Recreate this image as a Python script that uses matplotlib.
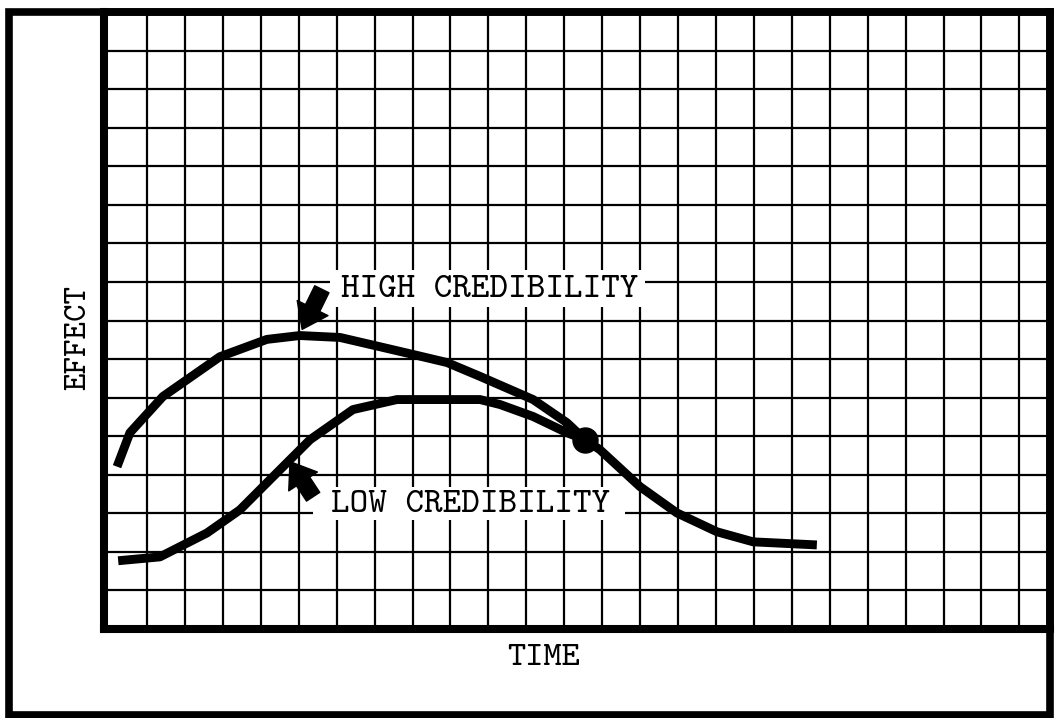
import matplotlib
matplotlib.use("Agg")
import matplotlib.pyplot as plt
from matplotlib.patches import Rectangle

# ---- data (grid units: one grid cell = 1) ----
high_x = [0.21, 0.55, 1.42, 2.92, 4.16, 5.03, 6.09, 7.14, 8.01, 8.91, 9.78, 11.18, 12.07, 12.55,
          12.94, 14.00, 14.97, 16.03, 16.98, 18.66]
high_y = [4.21, 5.09, 6.03, 7.06, 7.51, 7.61, 7.56, 7.32, 7.12, 6.91, 6.55, 5.95, 5.35, 4.91,
          4.65, 3.69, 3.01, 2.52, 2.26, 2.18]
low_x = [0.24, 1.34, 2.58, 3.45, 4.16, 5.30, 6.43, 7.59, 8.73, 9.78, 10.31, 11.18, 12.07, 12.55]
low_y = [1.77, 1.87, 2.49, 3.09, 3.79, 4.91, 5.69, 5.95, 5.95, 5.95, 5.82, 5.51, 5.09, 4.91]

labels = ["HIGH CREDIBILITY", "LOW CREDIBILITY"]
x_label = "TIME"
y_label = "EFFECT"

W, H = 1056, 718
fig = plt.figure(figsize=(W / 100, H / 100), dpi=100)
fig.patch.set_facecolor("white")

# axes placement in pixels
ax_l, ax_r, ax_t, ax_b = 104, 1050, 12, 629
ax = fig.add_axes([ax_l / W, 1 - ax_b / H, (ax_r - ax_l) / W, (ax_b - ax_t) / H])
cell_w = 37.93
x0_px = 109.07
ax.set_xlim((ax_l - x0_px) / cell_w, (ax_r - x0_px) / cell_w)
ax.set_ylim(0, 16)
ax.set_xticks(range(1, 25))
ax.set_yticks(range(1, 16))
ax.tick_params(length=0, labelbottom=False, labelleft=False)
ax.grid(True, color="black", linewidth=1.6)
ax.set_axisbelow(True)
for side in ["left", "bottom"]:
    ax.spines[side].set_linewidth(5.8)
for side in ["top", "right"]:
    ax.spines[side].set_linewidth(5.5)

curve_kw = dict(color="black", linewidth=6.4, solid_capstyle="butt", solid_joinstyle="round", zorder=4)
ax.plot(high_x, high_y, **curve_kw)
ax.plot(low_x, low_y, **curve_kw)
ax.plot([low_x[-1]], [low_y[-1]], marker="o", markersize=18, color="black", zorder=5)

# white boxes behind labels (interrupt grid)
ax.add_patch(Rectangle((5.83, 8.36), 8.30, 0.96, facecolor="white", edgecolor="none", zorder=2))
ax.add_patch(Rectangle((5.38, 2.83), 8.23, 0.85, facecolor="white", edgecolor="none", zorder=2))

font = "cmtt10"
ax.text(10.04, 8.60, labels[0], fontfamily=font, fontsize=25.5, ha="center", va="baseline", zorder=3)
ax.text(9.52, 3.04, labels[1], fontfamily=font, fontsize=25.5, ha="center", va="baseline", zorder=3)

arrow_kw = dict(arrowstyle="simple,head_width=1.3,head_length=0.9,tail_width=0.6",
                color="black", mutation_scale=19, shrinkA=0, shrinkB=0)
ax.annotate("", xy=(5.09, 7.77), xytext=(5.61, 8.81), arrowprops=arrow_kw, zorder=6)
ax.annotate("", xy=(4.77, 4.34), xytext=(5.38, 3.43), arrowprops=arrow_kw, zorder=6)

fig.text(544 / W, 1 - 665 / H, x_label, fontfamily=font, fontsize=25, ha="center", va="baseline")
fig.text(79 / W, 1 - 338 / H, y_label, fontfamily=font, fontsize=24, rotation=90,
         ha="center", va="center")

# outer frame
fig.add_artist(Rectangle((9 / W, 1 - 715 / H), (1050 - 9) / W, (715 - 12) / H,
                         transform=fig.transFigure, fill=False, edgecolor="black",
                         linewidth=5.5, zorder=10))

fig.savefig("out.png", dpi=100, facecolor="white")
